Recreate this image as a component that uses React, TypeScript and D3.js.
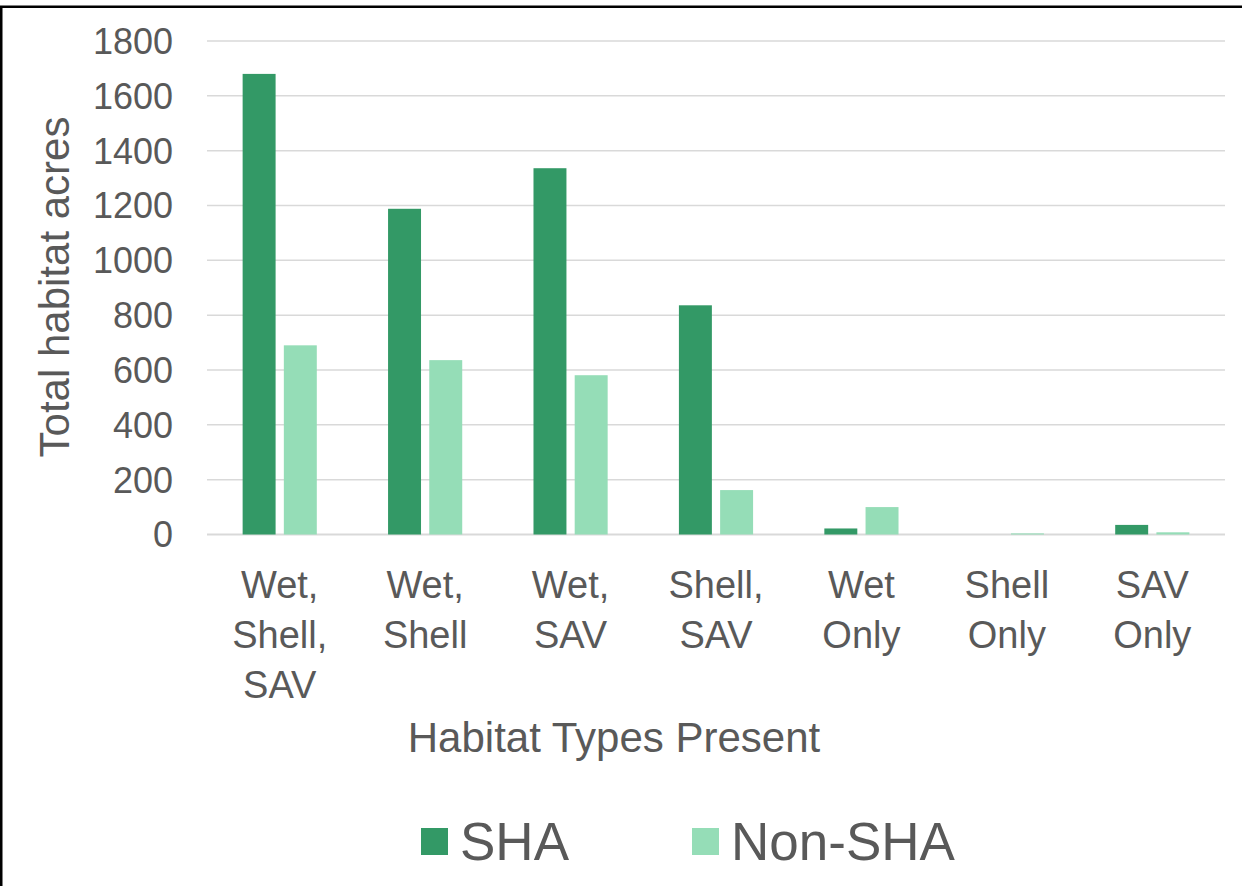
import React from "react";
import * as d3 from "d3";

const categories: string[][] = [
  ["Wet,", "Shell,", "SAV"],
  ["Wet,", "Shell"],
  ["Wet,", "SAV"],
  ["Shell,", "SAV"],
  ["Wet", "Only"],
  ["Shell", "Only"],
  ["SAV", "Only"],
];
const shaValues = [1680, 1188, 1336, 836, 22, 0, 35];
const nonShaValues = [690, 636, 581, 162, 100, 4, 8];
const seriesNames = ["SHA", "Non-SHA"];
const seriesColors = ["#339966", "#95DDB7"];
const yTicks = [0, 200, 400, 600, 800, 1000, 1200, 1400, 1600, 1800];

const FONT = "'Liberation Sans', Arial, sans-serif";
const TXT = "#595959";

export default function App() {
  const W = 1242, H = 886;
  const x0 = 207, x1 = 1225, yTop = 41, yBot = 534.5;
  const x = d3.scaleBand<number>().domain(d3.range(categories.length)).range([x0, x1]).paddingInner(0.49).paddingOuter(0.245);
  const xs = d3.scaleBand<number>().domain([0, 1]).range([0, x.bandwidth()]).paddingInner(0.2);
  const y = d3.scaleLinear().domain([0, 1800]).range([yBot, yTop]);
  const series = [shaValues, nonShaValues];
  const step = (x1 - x0) / categories.length;

  return (
    <svg width={W} height={H} style={{ position: "absolute", left: 0, top: 0, background: "#fff" }} fontFamily={FONT}>
      <rect x={0} y={0} width={W} height={H} fill="#fff" />
      {yTicks.map((t) => (
        <g key={t}>
          <line x1={x0} x2={x1} y1={y(t)} y2={y(t)} stroke="#d9d9d9" strokeWidth={t === 0 ? 2 : 1.5} />
          <text x={173} y={y(t)} dy="0.36em" textAnchor="end" fontSize={36} fill={TXT}>{t}</text>
        </g>
      ))}
      {series.map((vals, si) =>
        vals.map((v, i) => {
          const bx = (x(i) as number) + (xs(si) as number);
          return (
            <rect key={si + "-" + i} x={bx} y={y(v)} width={xs.bandwidth()} height={yBot - y(v)} fill={seriesColors[si]} />
          );
        })
      )}
      {categories.map((lines, i) => {
        const cx = x0 + step * (i + 0.5);
        return (
          <text key={i} textAnchor="middle" fontSize={38} fill={TXT}>
            {lines.map((l, j) => (
              <tspan key={j} x={cx} y={598 + j * 50}>{l}</tspan>
            ))}
          </text>
        );
      })}
      <text x={614} y={752} textAnchor="middle" fontSize={42} fill={TXT}>Habitat Types Present</text>
      <text transform="translate(69,287) rotate(-90)" textAnchor="middle" fontSize={42} fill={TXT}>Total habitat acres</text>
      {seriesNames.map((n, i) => {
        const lx = i === 0 ? 421 : 692;
        return (
          <g key={n}>
            <rect x={lx} y={828} width={27} height={27} fill={seriesColors[i]} />
            <text x={lx + 39} y={860} fontSize={53} fill={TXT}>{n}</text>
          </g>
        );
      })}
      <path d={`M1.25,${H} V6.75 H${W}`} fill="none" stroke="#000" strokeWidth={2.5} />
    </svg>
  );
}
